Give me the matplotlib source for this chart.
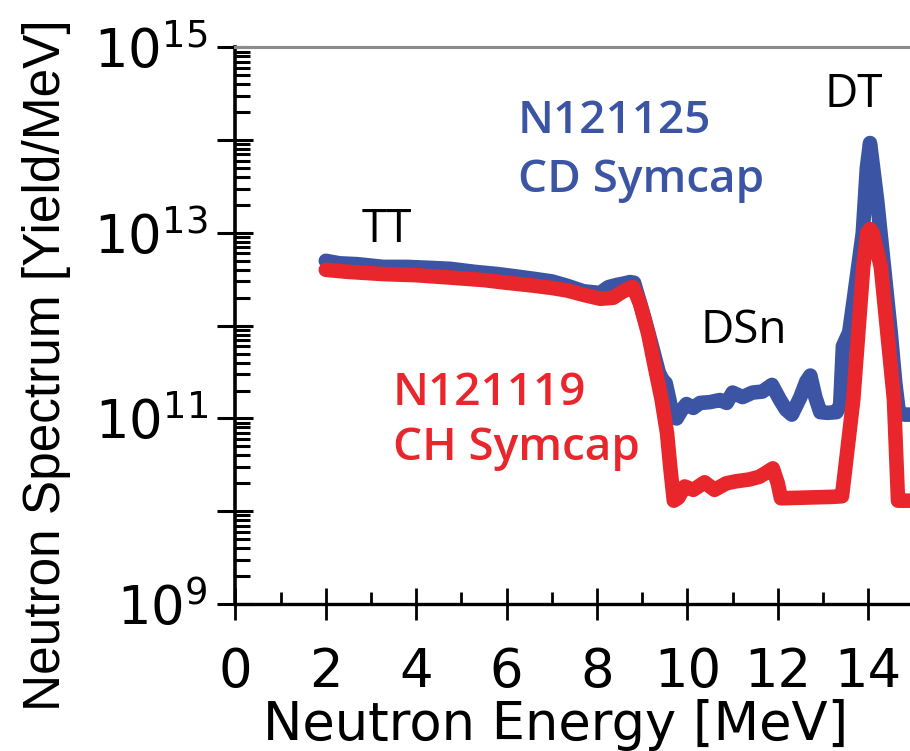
import math

import matplotlib
matplotlib.use("Agg")
import matplotlib.pyplot as plt
from matplotlib.ticker import LogLocator, FixedLocator, NullFormatter, FuncFormatter

# N121125, CD Symcap
cd_energy = [2.0, 2.3, 2.7, 3.27, 3.8, 4.3, 4.75, 5.3, 5.8, 6.2, 6.6, 7.0, 7.33,
             7.7, 8.07, 8.25, 8.44, 8.6, 8.73, 8.82, 9.04, 9.22, 9.37, 9.45, 9.52,
             9.6, 9.67, 9.76, 9.88, 9.98, 10.13, 10.28, 10.5, 10.72, 10.87, 11.0,
             11.22, 11.44, 11.66, 11.87, 12.05, 12.18, 12.31, 12.5, 12.63, 12.72,
             12.83, 12.94, 13.1, 13.3, 13.38, 13.44, 13.58, 13.68, 13.88, 13.97,
             14.04, 14.11, 14.2, 14.35, 14.5, 14.6, 14.68, 14.8, 15.0]
cd_yield = [5.0e12, 4.7e12, 4.6e12, 4.3e12, 4.3e12, 4.2e12, 4.1e12, 3.8e12, 3.6e12,
            3.4e12, 3.2e12, 3.0e12, 2.7e12, 2.35e12, 2.25e12, 2.6e12, 2.75e12,
            2.85e12, 2.95e12, 2.9e12, 1.25e12, 5.9e11, 3.1e11, 2.6e11, 2.4e11,
            1.6e11, 1.05e11, 1.0e11, 1.25e11, 1.43e11, 1.3e11, 1.47e11, 1.5e11,
            1.58e11, 1.47e11, 1.9e11, 1.7e11, 1.9e11, 1.95e11, 2.3e11, 1.58e11,
            1.25e11, 1.1e11, 1.7e11, 2.5e11, 2.9e11, 1.7e11, 1.17e11, 1.15e11,
            1.17e11, 1.4e11, 6.0e11, 8.5e11, 1.9e12, 1.0e13, 5.0e13, 9.3e13,
            5.0e13, 2.2e13, 4.3e12, 8.3e11, 2.4e11, 1.15e11, 1.1e11, 1.1e11]

# N121119, CH Symcap
ch_energy = [2.0, 2.5, 3.27, 4.0, 4.75, 5.5, 6.0, 6.6, 7.0, 7.33, 7.7, 8.07, 8.36,
             8.55, 8.73, 8.8, 8.95, 9.13, 9.28, 9.43, 9.55, 9.62, 9.7, 9.8, 9.94,
             10.13, 10.38, 10.6, 10.86, 11.07, 11.37, 11.59, 11.74, 11.89, 12.0,
             12.07, 13.22, 13.42, 13.67, 13.89, 13.98, 14.04, 14.1, 14.28, 14.57,
             14.66, 15.0]
ch_yield = [4.0e12, 3.8e12, 3.6e12, 3.5e12, 3.3e12, 3.1e12, 2.9e12, 2.7e12, 2.55e12,
            2.4e12, 2.15e12, 1.95e12, 2.0e12, 2.3e12, 2.55e12, 2.6e12, 1.74e12,
            8.3e11, 3.6e11, 1.6e11, 6.9e10, 3.0e10, 1.3e10, 1.4e10, 1.85e10,
            1.7e10, 2.05e10, 1.7e10, 2.0e10, 2.1e10, 2.2e10, 2.35e10, 2.6e10,
            2.9e10, 2.0e10, 1.38e10, 1.43e10, 1.45e10, 1.6e11, 4.3e12, 1.0e13,
            1.1e13, 1.0e13, 4.3e12, 1.6e11, 1.3e10, 1.3e10]

x_major = [0, 2, 4, 6, 8, 10, 12, 14]
x_minor = [1, 3, 5, 7, 9, 11, 13, 15]
y_labelled = [9, 11, 13, 15]

BLUE = "#3b55a4"
RED = "#e8262b"

fig = plt.figure(figsize=(9.1, 7.51), dpi=100)
ax = fig.add_axes([0.2587, 0.1957, 0.7413, 0.7413])

ax.plot(cd_energy, cd_yield, color=BLUE, lw=10.5, solid_joinstyle="round",
        solid_capstyle="round", zorder=2)
ax.plot(ch_energy, ch_yield, color=RED, lw=10.5, solid_joinstyle="round",
        solid_capstyle="round", zorder=3)

ax.set_yscale("log")
ax.set_xlim(0, 14.925)
ax.set_ylim(1e9, 1e15)

# axes frame: black left/bottom, grey top, no right side
ax.spines["right"].set_visible(False)
ax.spines["top"].set_color("#8c8c8c")
ax.spines["top"].set_linewidth(2.2)
ax.spines["left"].set_linewidth(2.6)
ax.spines["bottom"].set_linewidth(2.4)

ax.xaxis.set_major_locator(FixedLocator(x_major))
ax.xaxis.set_minor_locator(FixedLocator(x_minor))
ax.yaxis.set_major_locator(LogLocator(base=10, numticks=20))
ax.yaxis.set_minor_locator(LogLocator(base=10, subs=range(2, 10), numticks=20))
ax.yaxis.set_minor_formatter(NullFormatter())


def pow_label(v, pos):
    e = int(round(math.log10(v)))
    return r"$10^{%d}$" % e if e in y_labelled else ""


ax.yaxis.set_major_formatter(FuncFormatter(pow_label))

ax.tick_params(axis="x", which="major", direction="inout", length=23, width=2.0,
               pad=19, labelsize=38)
ax.tick_params(axis="x", which="minor", direction="in", length=8.6, width=2.0)
ax.tick_params(axis="y", which="major", direction="inout", length=26, width=2.2,
               pad=7, labelsize=38)
ax.tick_params(axis="y", which="minor", direction="in", length=11, width=2.2)
ax.tick_params(top=False, right=False, which="both")

for lab in ax.get_xticklabels() + ax.get_yticklabels():
    lab.set_family("DejaVu Sans")

ax.set_xlabel("Neutron Energy [MeV]", fontsize=38, family="DejaVu Sans")
ax.xaxis.set_label_coords(0.474, -0.1706)
ax.set_ylabel("Neutron Spectrum [Yield/MeV]", fontsize=37,
              family="Liberation Sans")
ax.yaxis.set_label_coords(-0.2437, 0.429)

# peak and shot annotations
ann = dict(family="Open Sans", fontsize=33, ha="left", va="baseline")
ax.text(2.8, 8.0e12, "TT", color="black", **ann)
ax.text(13.04, 2.29e14, "DT", color="black", **ann)
ax.text(10.28, 6.44e11, "DSn", color="black", **ann)
ax.text(6.25, 1.19e14, "N121125", color=BLUE, fontweight="semibold", **ann)
ax.text(6.25, 2.75e13, "CD Symcap", color=BLUE, fontweight="semibold", **ann)
ax.text(3.48, 1.39e11, "N121119", color=RED, fontweight="semibold", **ann)
ax.text(3.48, 3.56e10, "CH Symcap", color=RED, fontweight="semibold", **ann)

fig.savefig("out.png", dpi=100)
